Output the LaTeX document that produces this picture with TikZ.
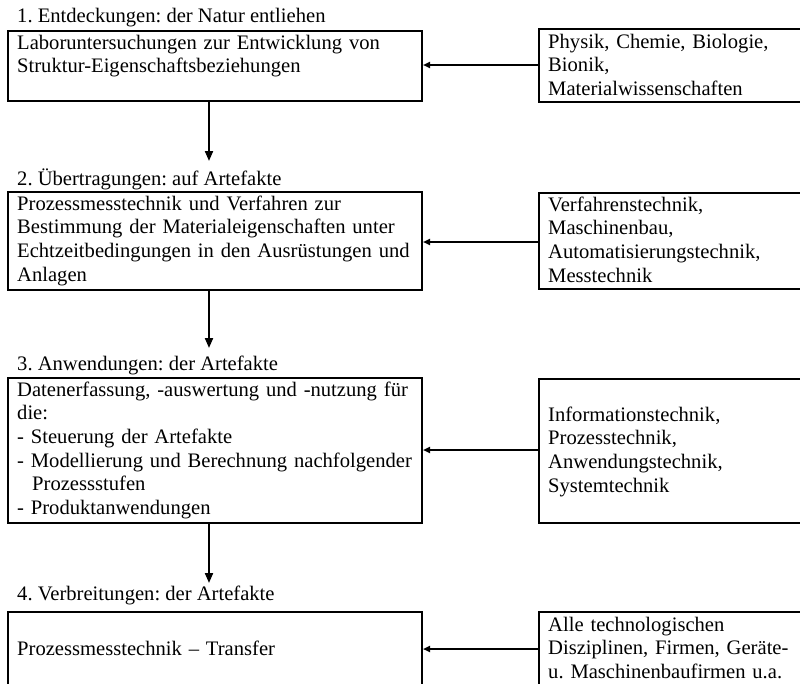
\documentclass[tikz,border=0pt]{standalone}
\usepackage{fontspec}
\setmainfont{Liberation Serif}
\usetikzlibrary{arrows.meta}
\begin{document}
\frenchspacing
\begin{tikzpicture}[x=1pt,y=-1pt,
  box/.style={draw, line width=2pt, rectangle, inner sep=0pt, anchor=north west},
  lbox/.style={box, minimum width=414pt},
  rbox/.style={box, minimum width=280pt},
  txt/.style={anchor=base west, inner sep=0pt, align=left, font=\fontsize{20.6}{23.7}\selectfont\frenchspacing},
  ltxt/.style={txt, text width=395pt},
  rtxt/.style={txt, text width=250pt},
  varr/.style={line width=2pt, -{Triangle[length=10pt,width=8pt]}},
  harr/.style={line width=2pt, -{Triangle[length=7pt,width=6pt]}}
]
\useasboundingbox (0,0) rectangle (800,683);
\clip (0,0) rectangle (800,683);
\fill[white] (0,0) rectangle (800,683);

% left boxes
\node[lbox, minimum height=70pt] (b1) at (7,30) {};
\node[lbox, minimum height=98pt] (b2) at (7,191) {};
\node[lbox, minimum height=145pt] (b3) at (7,377) {};
\node[lbox, minimum height=100pt] (b4) at (7,611) {};

% right boxes
\node[rbox, minimum height=73pt] (r1) at (538,28) {};
\node[rbox, minimum height=96pt] (r2) at (538,192) {};
\node[rbox, minimum height=144pt] (r3) at (538,378) {};
\node[rbox, minimum height=100pt] (r4) at (538,611) {};

% headings
\node[txt] (h1) at (17,22) {1. Entdeckungen: der Natur entliehen};
\node[txt] (h2) at (17,185) {2. Übertragungen: auf Artefakte};
\node[txt] (h3) at (17,370) {3. Anwendungen: der Artefakte};
\node[txt] (h4) at (17,600) {4. Verbreitungen: der Artefakte};

% left texts
\node[ltxt] (t1) at (17,49) {Laboruntersuchungen zur Entwicklung von\\Struktur-Eigenschaftsbeziehungen};
\node[ltxt] (t2) at (17,210) {Prozessmesstechnik und Verfahren zur\\Bestimmung der Materialeigenschaften unter\\Echtzeitbedingungen in den Ausrüstungen und\\Anlagen};
\node[ltxt] (t3) at (17,396) {Datenerfassung, -auswertung und -nutzung für\\die:\\- Steuerung der Artefakte\\- Modellierung und Berechnung nachfolgender\\\hspace*{15pt}Prozessstufen\\- Produktanwendungen};
\node[ltxt] (t4) at (17,655) {Prozessmesstechnik – Transfer};

% right texts
\node[rtxt] (s1) at (548,48) {Physik, Chemie, Biologie,\\Bionik,\\Materialwissenschaften};
\node[rtxt] (s2) at (548,211) {Verfahrenstechnik,\\Maschinenbau,\\Automatisierungstechnik,\\Messtechnik};
\node[rtxt] (s3) at (548,421) {Informationstechnik,\\Prozesstechnik,\\Anwendungstechnik,\\Systemtechnik};
\node[rtxt] (s4) at (548,631) {Alle technologischen\\Disziplinen, Firmen, Geräte-\\u. Maschinenbaufirmen u.a.};

% vertical arrows
\coordinate (v1) at (209,161);
\coordinate (v2) at (209,348);
\coordinate (v3) at (209,583);
\draw[varr] (b1.south -| v1) -- (v1);
\draw[varr] (b2.south -| v2) -- (v2);
\draw[varr] (b3.south -| v3) -- (v3);

% horizontal arrows
\coordinate (y1) at (0,65);
\coordinate (y2) at (0,242);
\coordinate (y3) at (0,450);
\coordinate (y4) at (0,649);
\draw[harr] (r1.west |- y1) -- (b1.east |- y1);
\draw[harr] (r2.west |- y2) -- (b2.east |- y2);
\draw[harr] (r3.west |- y3) -- (b3.east |- y3);
\draw[harr] (r4.west |- y4) -- (b4.east |- y4);
\end{tikzpicture}
\end{document}
